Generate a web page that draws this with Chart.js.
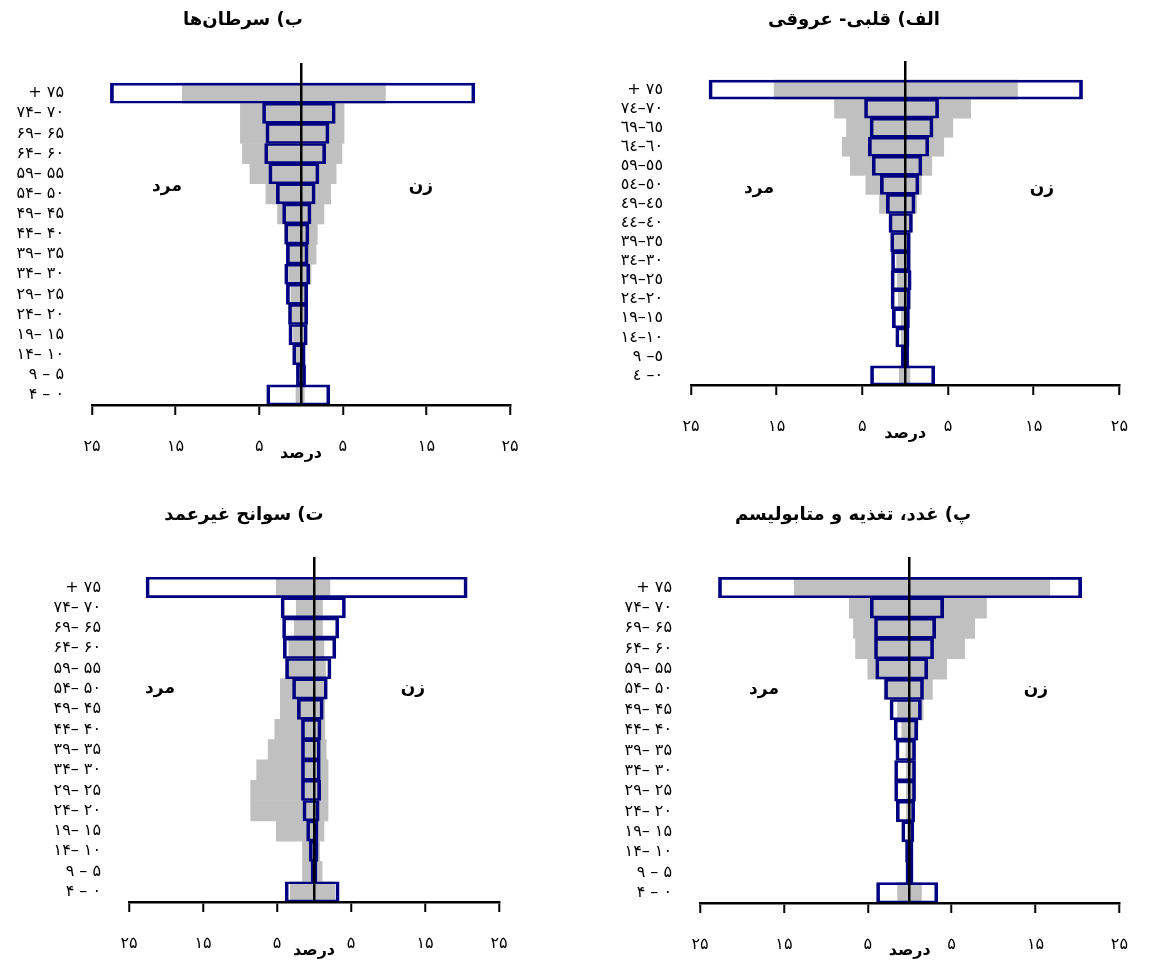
<!DOCTYPE html>
<html lang="fa" dir="rtl">
<head>
<meta charset="utf-8">
<title>هرم سنی مرگ‌ومیر</title>
<script src="https://cdn.jsdelivr.net/npm/chart.js@4.4.1/dist/chart.umd.min.js"></script>
<style>
  html, body { margin: 0; padding: 0; background: #fff; }
  .grid { display: grid; grid-template-columns: 575px 575px; grid-template-rows: 482px 482px; width: 1150px; height: 964px; }
  canvas { display: block; }
</style>
</head>
<body>
<div class="grid">
  <canvas id="c1" width="575" height="482"></canvas>
  <canvas id="c2" width="575" height="482"></canvas>
  <canvas id="c3" width="575" height="482"></canvas>
  <canvas id="c4" width="575" height="482"></canvas>
</div>
<script>
// گروه‌های سنی (از بالا به پایین)
const ageLabelsFa = ['۷۵ +', '۷۰ –۷۴', '۶۵ –۶۹', '۶۰ –۶۴', '۵۵ –۵۹', '۵۰ –۵۴', '۴۵ –۴۹', '۴۰ –۴۴',
  '۳۵ –۳۹', '۳۰ –۳۴', '۲۵ –۲۹', '۲۰ –۲۴', '۱۵ –۱۹', '۱۰ –۱۴', '۵ – ۹', '۰ – ۴'];
const ageLabelsAr = ['٧٥ +', '٧٠–٧٤', '٦٥–٦٩', '٦٠–٦٤', '٥٥–٥٩', '٥٠–٥٤', '٤٥–٤٩', '٤٠–٤٤',
  '٣٥–٣٩', '٣٠–٣٤', '٢٥–٢٩', '٢٠–٢٤', '١٥–١٩', '١٠–١٤', '٥– ٩', '٠– ٤'];
const xTickValues = [-25, -15, -5, 0, 5, 15, 25];

// الف) قلبی- عروقی
const cardioMenBlue = [22.9, 4.75, 4.1, 4.3, 3.85, 2.9, 2.2, 1.9, 1.7, 1.6, 1.65, 1.65, 1.5, 1.1, 0.45, 4.05];
const cardioWomenBlue = [20.7, 3.9, 3.25, 2.75, 1.95, 1.6, 1.15, 0.85, 0.6, 0.6, 0.7, 0.6, 0.5, 0.45, 0.4, 3.45];
const cardioMenGray = [15.3, 8.25, 6.85, 7.35, 6.4, 4.6, 3.0, 1.8, 1.4, 1.0, 0.9, 0.8, 0.45, 0.45, 0.45, 0.7];
const cardioWomenGray = [13.1, 7.65, 5.55, 4.5, 3.1, 1.9, 1.35, 0.7, 0.3, 0.3, 0.25, 0.25, 0.2, 0.2, 0.35, 0.55];

// ب) سرطان‌ها
const cancerMenBlue = [22.8, 4.6, 4.2, 4.35, 3.85, 2.95, 2.2, 1.95, 1.75, 1.95, 1.75, 1.5, 1.45, 1.0, 0.55, 4.1];
const cancerWomenBlue = [20.8, 4.1, 3.35, 2.95, 2.15, 1.7, 1.2, 0.95, 0.85, 1.05, 0.8, 0.8, 0.75, 0.5, 0.55, 3.45];
const cancerMenGray = [14.2, 7.25, 7.25, 7.0, 6.1, 4.2, 2.8, 2.0, 1.7, 1.5, 1.2, 1.1, 0.9, 0.6, 0.5, 0.6];
const cancerWomenGray = [10.1, 5.15, 5.15, 4.9, 4.2, 3.55, 2.75, 1.95, 1.8, 1.2, 0.7, 0.5, 0.4, 0.3, 0.3, 0.4];

// پ) غدد، تغذیه و متابولیسم
const endoMenBlue = [22.8, 4.7, 4.2, 4.2, 4.05, 3.0, 2.35, 1.85, 1.65, 1.8, 1.8, 1.6, 0.95, 0.5, 0.45, 3.95];
const endoWomenBlue = [20.5, 4.05, 3.1, 2.85, 2.15, 1.65, 1.4, 0.95, 0.7, 0.7, 0.7, 0.6, 0.5, 0.4, 0.4, 3.35];
const endoMenGray = [13.75, 7.2, 6.7, 6.45, 5.0, 3.05, 1.45, 0.95, 0.45, 0.4, 0.4, 0.4, 0.3, 0.3, 0.3, 1.45];
const endoWomenGray = [16.7, 9.15, 7.75, 6.55, 4.4, 2.7, 1.6, 1.0, 0.5, 0.45, 0.4, 0.35, 0.3, 0.3, 0.3, 1.4];

// ت) سوانح غیرعمد
const accidentMenBlue = [22.7, 4.45, 4.25, 4.15, 3.85, 2.9, 2.25, 1.7, 1.7, 1.7, 1.7, 1.5, 1.0, 0.65, 0.4, 3.9];
const accidentWomenBlue = [20.7, 4.25, 3.35, 2.95, 2.3, 1.8, 1.25, 0.95, 0.85, 0.85, 0.9, 0.7, 0.55, 0.55, 0.4, 3.4];
const accidentMenGray = [5.1, 2.4, 2.65, 3.4, 3.8, 4.55, 4.55, 5.3, 6.2, 7.75, 8.55, 8.55, 5.1, 1.55, 1.55, 3.2];
const accidentWomenGray = [2.15, 1.15, 1.15, 1.35, 1.55, 1.55, 1.45, 1.45, 1.65, 1.9, 1.9, 1.9, 1.35, 0.75, 1.1, 2.8];

const FONT = '"DejaVu Sans", sans-serif';
const toFa = n => String(n).replace(/\d/g, d => '۰۱۲۳۴۵۶۷۸۹'[d]);

// عنوان نمودار و برچسب‌های مرد / زن
const panelText = {
  id: 'panelText',
  afterDraw(chart, args, o) {
    const ctx = chart.ctx;
    ctx.save();
    ctx.fillStyle = '#000';
    ctx.textAlign = 'center';
    ctx.textBaseline = 'middle';
    ctx.font = 'bold 18px ' + FONT;
    ctx.fillText(o.title, o.titleX, o.titleY);
    ctx.font = 'bold 17px ' + FONT;
    ctx.fillText('مرد', o.menX, o.sexY);
    ctx.fillText('زن', o.womenX, o.sexY);
    ctx.restore();
  }
};

const panels = [
  { id: 'c1', title: 'الف) قلبی- عروقی', labels: ageLabelsAr,
    menBlue: cardioMenBlue, womenBlue: cardioWomenBlue, menGray: cardioMenGray, womenGray: cardioWomenGray,
    top: 61, left: 116, right: 20, xHeight: 97, titlePad: 39, titleX: 279, titleY: 20, menX: 184, womenX: 467, sexY: 189 },
  { id: 'c2', title: 'ب) سرطان‌ها', labels: ageLabelsFa,
    menBlue: cancerMenBlue, womenBlue: cancerWomenBlue, menGray: cancerMenGray, womenGray: cancerWomenGray,
    top: 63, left: 92, right: 65, xHeight: 77, titlePad: 19, titleX: 243, titleY: 20, menX: 167, womenX: 421, sexY: 187 },
  { id: 'c3', title: 'پ) غدد، تغذیه و متابولیسم', labels: ageLabelsFa,
    menBlue: endoMenBlue, womenBlue: endoWomenBlue, menGray: endoMenGray, womenGray: endoWomenGray,
    top: 75, left: 125, right: 29, xHeight: 61, titlePad: 4, titleX: 278, titleY: 33, menX: 189, womenX: 461, sexY: 208 },
  { id: 'c4', title: 'ت) سوانح غیرعمد', labels: ageLabelsFa,
    menBlue: accidentMenBlue, womenBlue: accidentWomenBlue, menGray: accidentMenGray, womenGray: accidentWomenGray,
    top: 75, left: 129, right: 76, xHeight: 62, titlePad: 4, titleX: 244, titleY: 33, menX: 160, womenX: 413, sexY: 207 }
];

panels.forEach(p => {
  // ردیف خالی بالای هرم برای ادامه خط وسط
  const labels = [''].concat(p.labels);
  const gray = [null].concat(p.menGray.map((m, i) => [-m, p.womenGray[i]]));
  const blue = [null].concat(p.menBlue.map((m, i) => [-m, p.womenBlue[i]]));

  new Chart(document.getElementById(p.id), {
    type: 'bar',
    data: {
      labels: labels,
      datasets: [{
        label: 'gray',
        data: gray,
        backgroundColor: '#c0c0c0',
        borderWidth: 0,
        order: 2
      }, {
        label: 'blue',
        data: blue,
        backgroundColor: 'rgba(0,0,0,0)',
        borderColor: '#000080',
        borderWidth: { top: 2, bottom: 2, left: 3, right: 3 },
        borderSkipped: false,
        order: 1
      }]
    },
    options: {
      indexAxis: 'y',
      responsive: false,
      animation: false,
      layout: { padding: { top: p.top, right: p.right, bottom: 0, left: 0 } },
      datasets: { bar: { grouped: false, barPercentage: 1, categoryPercentage: 1 } },
      plugins: {
        legend: { display: false },
        tooltip: { enabled: false },
        panelText: p
      },
      scales: {
        x: {
          type: 'linear', min: -25, max: 25,
          afterBuildTicks: s => { s.ticks = xTickValues.map(v => ({ value: v })); },
          afterFit: s => { s.height = p.xHeight; },
          ticks: {
            callback: v => v === 0 ? '' : toFa(Math.abs(v)),
            font: { family: FONT, size: 16 }, color: '#000', padding: 22, maxRotation: 0, autoSkip: false
          },
          grid: {
            z: 1, drawOnChartArea: true, tickLength: 10, lineWidth: 2.5, tickWidth: 2,
            color: c => (c.tick && c.tick.value === 0) ? '#000' : 'rgba(0,0,0,0)',
            tickColor: c => (c.tick && c.tick.value === 0) ? 'rgba(0,0,0,0)' : '#000'
          },
          border: { display: true, color: '#000', width: 2.5, z: 1 },
          title: {
            display: true, text: 'درصد', color: '#000',
            font: { family: FONT, size: 16, weight: 'bold' },
            padding: { top: 0, bottom: p.titlePad }
          }
        },
        y: {
          type: 'category',
          afterFit: s => { s.width = p.left; },
          grid: { display: false, drawTicks: false },
          border: { display: false },
          ticks: { font: { family: FONT, size: 16 }, color: '#000', padding: 28, autoSkip: false }
        }
      }
    },
    plugins: [panelText]
  });
});
</script>
</body>
</html>
